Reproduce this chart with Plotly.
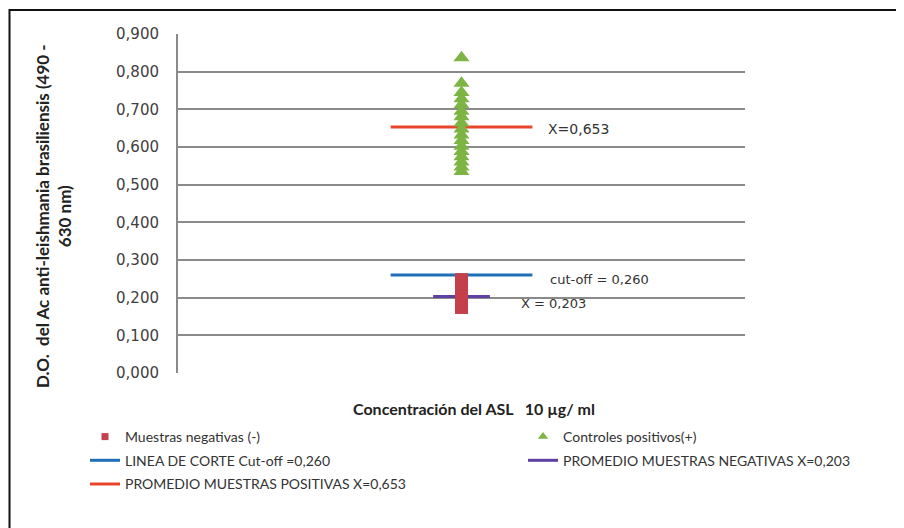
import plotly.graph_objects as go

# ---- data ----
category_x = [1]
negativas = [0.248, 0.240, 0.232, 0.226, 0.221, 0.216, 0.212, 0.208, 0.205, 0.201,
             0.198, 0.195, 0.192, 0.189, 0.187, 0.185, 0.183, 0.181, 0.179, 0.177,
             0.176, 0.175, 0.174]
positivos = [0.837, 0.769, 0.745, 0.728, 0.712, 0.695, 0.680, 0.664, 0.648, 0.632,
             0.617, 0.602, 0.588, 0.574, 0.560, 0.547, 0.535]
cutoff = 0.260
prom_neg = 0.203
prom_pos = 0.653
wide_span = [0.875, 1.125]
narrow_span = [0.95, 1.05]
y_ticks = [0.0, 0.1, 0.2, 0.3, 0.4, 0.5, 0.6, 0.7, 0.8, 0.9]

C_NEG = "#C4404B"
C_POS = "#7DB443"
C_CUT = "#1F6FB8"
C_PNEG = "#5E3FA3"
C_PPOS = "#E8452A"
FONT = "Lato"
TXT = "#333333"

# page offset of the html body (default 8px margin)
OFF = 8
W, H = 904 - OFF, 528 - OFF
PL, PR, PT, PB = 178, 745, 34, 373  # desired plot area in page pixels
PW, PH = PR - PL, PB - PT

fig = go.Figure()

# legend-only entries for the marker series (small symbols as in the reference)
fig.add_trace(go.Scatter(x=[None], y=[None], mode="markers", name="Muestras negativas (-)",
                         marker=dict(symbol="square", size=7, color=C_NEG),
                         legend="legend", legendgroup="g1"))
fig.add_trace(go.Scatter(x=[None], y=[None], mode="markers", name="Controles positivos(+)",
                         marker=dict(symbol="triangle-up", size=9, color=C_POS),
                         legend="legend2", legendgroup="g2"))

fig.add_trace(go.Scatter(x=wide_span, y=[cutoff] * len(wide_span), mode="lines",
                         name="LINEA DE CORTE Cut-off =0,260",
                         line=dict(color=C_CUT, width=3), legend="legend", legendgroup="g3"))
fig.add_trace(go.Scatter(x=narrow_span, y=[prom_neg] * len(narrow_span), mode="lines",
                         name="PROMEDIO MUESTRAS NEGATIVAS X=0,203",
                         line=dict(color=C_PNEG, width=3), legend="legend2", legendgroup="g4"))
fig.add_trace(go.Scatter(x=wide_span, y=[prom_pos] * len(wide_span), mode="lines",
                         name="PROMEDIO MUESTRAS POSITIVAS X=0,653",
                         line=dict(color=C_PPOS, width=3), legend="legend", legendgroup="g5"))

fig.add_trace(go.Scatter(x=category_x * len(negativas), y=negativas, mode="markers",
                         showlegend=False,
                         marker=dict(symbol="square", size=13, color=C_NEG,
                                     line=dict(width=0))))
fig.add_trace(go.Scatter(x=category_x * len(positivos), y=positivos, mode="markers",
                         showlegend=False,
                         marker=dict(symbol="triangle-up", size=14, color=C_POS,
                                     line=dict(width=0))))

# value labels
fig.add_annotation(x=wide_span[1], y=prom_pos, text="X=0,653", showarrow=False,
                   xanchor="left", yanchor="middle", xshift=14, yshift=-2,
                   font=dict(family="DejaVu Sans", size=14, color=TXT))
fig.add_annotation(x=wide_span[1], y=cutoff, text="cut-off = 0,260", showarrow=False,
                   xanchor="left", yanchor="middle", xshift=16, yshift=-4,
                   font=dict(family="DejaVu Sans", size=13, color=TXT))
fig.add_annotation(x=narrow_span[1], y=prom_neg, text="X = 0,203", showarrow=False,
                   xanchor="left", yanchor="middle", xshift=29, yshift=-7,
                   font=dict(family="DejaVu Sans", size=13, color=TXT))

# axis titles
fig.add_annotation(xref="paper", yref="paper", x=(53 - PL) / PW, y=(PB - 216) / PH,
                   xanchor="center", yanchor="middle", textangle=-90,
                   text="<b>D.O.  del Ac anti-leishmania brasiliensis (490 -<br>630 nm)</b>",
                   showarrow=False, font=dict(family=FONT, size=17, color="#222222"))
fig.add_annotation(xref="paper", yref="paper", x=(474 - PL) / PW, y=(PB - 408) / PH,
                   xanchor="center", yanchor="middle",
                   text="<b>Concentración del ASL   10 µg/ ml</b>", showarrow=False,
                   font=dict(family=FONT, size=16, color="#222222"))

# outer frame (left and top edges visible, right/bottom run off the picture)
fig.add_shape(type="rect", xref="paper", yref="paper",
              x0=(9.5 - PL) / PW, x1=(920 - PL) / PW,
              y0=(PB - 560) / PH, y1=(PB - 10) / PH,
              line=dict(color="#111111", width=2), fillcolor="rgba(0,0,0,0)", layer="below")

fig.update_layout(
    width=W, height=H,
    margin=dict(l=PL - OFF, r=W - (PR - OFF), t=PT - OFF, b=H - (PB - OFF),
                autoexpand=False),
    paper_bgcolor="white", plot_bgcolor="white",
    separators=", ",
    font=dict(family=FONT, color=TXT),
    xaxis=dict(range=[0.5, 1.5], showgrid=False, zeroline=False, showticklabels=False,
               ticks="", showline=False, fixedrange=True),
    yaxis=dict(range=[0, 0.9], tickvals=y_ticks, tickformat=".3f",
               showgrid=True, gridcolor="#8a8a8a", gridwidth=2,
               zeroline=False, showline=True, linecolor="#8a8a8a", linewidth=2,
               ticks="", ticklabelstandoff=14,
               tickfont=dict(family="DejaVu Sans", size=15, color="#404040")),
    legend=dict(xref="container", yref="container", x=(85 - OFF) / W,
                y=1 - (421 - OFF) / H,
                xanchor="left", yanchor="top", orientation="v", tracegroupgap=2.5,
                bgcolor="rgba(0,0,0,0)", font=dict(family=FONT, size=14, color=TXT)),
    legend2=dict(xref="container", yref="container", x=(523 - OFF) / W,
                 y=1 - (421 - OFF) / H,
                 xanchor="left", yanchor="top", orientation="v", tracegroupgap=2.5,
                 bgcolor="rgba(0,0,0,0)", font=dict(family=FONT, size=14, color=TXT)),
)

fig.write_html("out.html")
